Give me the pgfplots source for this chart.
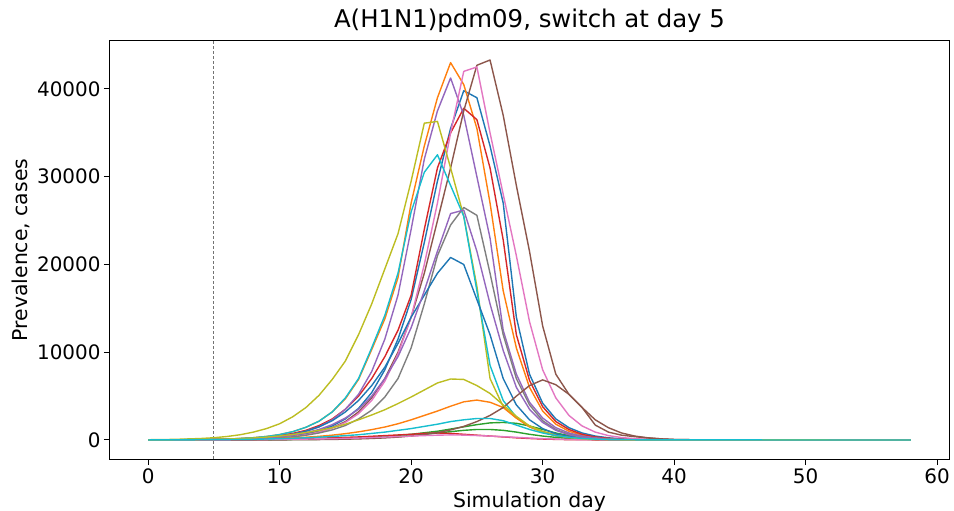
\documentclass[border=0pt]{standalone}
\usepackage{fontspec}
\setmainfont{DejaVu Sans}
\usepackage{pgfplots}
\pgfplotsset{compat=1.18}
\definecolor{c0}{HTML}{1F77B4}
\definecolor{c1}{HTML}{FF7F0E}
\definecolor{c2}{HTML}{2CA02C}
\definecolor{c3}{HTML}{D62728}
\definecolor{c4}{HTML}{9467BD}
\definecolor{c5}{HTML}{8C564B}
\definecolor{c6}{HTML}{E377C2}
\definecolor{c7}{HTML}{7F7F7F}
\definecolor{c8}{HTML}{BCBD22}
\definecolor{c9}{HTML}{17BECF}
\begin{document}
\begin{tikzpicture}
\begin{axis}[
 at={(0,0)}, anchor=south west,
 scale only axis, width=839bp, height=418bp,
 xmin=-2.9, xmax=60.9, ymin=-2165, ymax=45465,
 xtick={0,10,20,30,40,50,60},
 ytick={0,10000,20000,30000,40000},
 scaled y ticks=false,
 /pgf/number format/assume math mode=true,
 yticklabel style={/pgf/number format/fixed, /pgf/number format/1000 sep={}},
 tick label style={font=\fontsize{20}{24}\selectfont, black},
 tick align=outside, tick pos=left,
 major tick length=6bp,
 every tick/.style={black, line width=1bp},
 axis line style={black, line width=1bp},
 title={A(H1N1)pdm09, switch at day 5},
 title style={font=\fontsize{24.5}{29}\selectfont, at={(axis description cs:0.5,1)}, anchor=base, yshift=8bp},
 xlabel={Simulation day},
 xlabel style={font=\fontsize{20.5}{24}\selectfont, at={(axis description cs:0.5,0)}, anchor=north, yshift=-29bp},
 ylabel={Prevalence, cases},
 ylabel style={font=\fontsize{20.5}{24}\selectfont},
 every axis plot/.append style={line width=1.4bp, mark=none, line join=round},
]
\addplot[black!55, dash pattern=on 3bp off 2bp, line width=0.8bp, forget plot] coordinates {(5,-2165) (5,45465)};
% first cycle
\addplot[c0] coordinates {(0,5)(4,20)(6,50)(8,120)(9,190)(10,300)(11,460)(12,700)(13,1050)(14,1600)(15,2400)(16,3600)(17,5400)(18,8000)(19,11500)(20,16000)(21,22500)(22,29500)(23,35500)(24,39800)(25,39000)(26,33500)(27,27000)(28,14000)(29,7500)(30,4200)(31,2400)(32,1400)(33,800)(34,450)(35,250)(36,130)(37,70)(39,20)(58,0)};
\addplot[c1] coordinates {(0,10)(2,25)(4,50)(5,70)(6,110)(7,170)(8,260)(9,400)(10,620)(11,950)(12,1450)(13,2150)(14,3200)(15,4700)(16,6900)(17,10300)(18,13800)(19,18500)(20,27000)(21,33500)(22,39000)(23,43000)(24,40500)(25,35500)(26,27000)(27,17000)(28,10500)(29,6000)(30,3300)(31,1800)(32,1000)(33,550)(34,300)(35,150)(36,80)(37,40)(40,10)(58,0)};
\addplot[c2] coordinates {(0,2)(8,30)(10,60)(12,100)(14,150)(16,250)(18,400)(20,650)(22,1000)(23,1250)(24,1500)(25,1750)(26,1950)(27,2000)(28,1900)(29,1600)(30,1200)(31,800)(32,500)(33,300)(34,170)(35,90)(36,50)(39,10)(58,0)};
\addplot[c3] coordinates {(0,10)(4,40)(6,90)(8,220)(9,330)(10,500)(11,750)(12,1100)(13,1650)(14,2400)(15,3500)(16,5000)(17,7000)(18,9500)(19,12500)(20,16500)(21,24000)(22,31000)(23,35000)(24,37800)(25,36500)(26,31000)(27,22800)(28,12000)(29,6800)(30,3800)(31,2100)(32,1200)(33,650)(34,350)(35,190)(36,100)(37,50)(39,15)(58,0)};
\addplot[c4] coordinates {(0,5)(2,15)(4,30)(5,45)(6,70)(7,110)(8,170)(9,270)(10,420)(11,650)(12,1000)(13,1500)(14,2300)(15,3500)(16,5200)(17,7800)(18,11500)(19,16500)(20,24000)(21,32000)(22,37500)(23,41250)(24,37000)(25,30000)(26,23000)(27,12500)(28,7500)(29,4300)(30,2500)(31,1400)(32,800)(33,450)(34,250)(35,130)(36,70)(38,20)(58,0)};
\addplot[c5] coordinates {(0,5)(4,15)(6,40)(8,110)(9,170)(10,260)(11,400)(12,600)(13,900)(14,1400)(15,2100)(16,3200)(17,4800)(18,7000)(19,10000)(20,14000)(21,19000)(22,25000)(23,31000)(24,37500)(25,42700)(26,43300)(27,37000)(28,29000)(29,21500)(30,13000)(31,7500)(32,5200)(33,3700)(34,2300)(35,1400)(36,800)(37,450)(38,250)(39,130)(40,60)(42,15)(58,0)};
\addplot[c6] coordinates {(0,5)(4,20)(6,50)(8,110)(9,170)(10,260)(11,400)(12,600)(13,900)(14,1350)(15,2000)(16,3000)(17,4500)(18,6700)(19,9800)(20,14000)(21,20000)(22,27000)(23,35000)(24,42000)(25,42500)(26,35000)(27,28000)(28,21000)(29,13500)(30,8000)(31,4800)(32,2800)(33,1600)(34,900)(35,500)(36,280)(37,150)(38,80)(39,40)(42,5)(58,0)};
\addplot[c7] coordinates {(0,5)(4,20)(6,45)(8,100)(9,160)(10,240)(11,360)(12,540)(13,800)(14,1150)(15,1650)(16,2400)(17,3400)(18,4900)(19,7000)(20,10500)(21,15500)(22,21000)(23,24500)(24,26500)(25,25600)(26,19000)(27,12000)(28,7000)(29,4000)(30,2200)(31,1200)(32,650)(33,350)(34,180)(35,90)(37,25)(58,0)};
\addplot[c8] coordinates {(0,30)(2,70)(4,170)(5,260)(6,400)(7,600)(8,900)(9,1300)(10,1850)(11,2650)(12,3700)(13,5100)(14,6900)(15,9000)(16,12000)(17,15500)(18,19500)(19,23500)(20,29500)(21,36100)(22,36300)(23,31000)(24,25500)(25,17500)(26,7000)(27,3800)(28,2500)(29,1600)(30,1000)(31,600)(32,350)(33,200)(34,110)(35,60)(36,30)(40,5)(58,0)};
\addplot[c9] coordinates {(0,10)(2,25)(4,50)(5,70)(6,110)(7,170)(8,260)(9,400)(10,620)(11,950)(12,1450)(13,2150)(14,3200)(15,4800)(16,7000)(17,10500)(18,14200)(19,19000)(20,26000)(21,30500)(22,32500)(23,29000)(24,25500)(25,17000)(26,8500)(27,4500)(28,2600)(29,1500)(30,900)(31,500)(32,280)(33,150)(34,80)(35,40)(40,5)(58,0)};
% second cycle
\addplot[c0] coordinates {(0,5)(4,20)(5,45)(6,70)(7,110)(8,170)(9,270)(10,420)(11,650)(12,1000)(13,1500)(14,2200)(15,3200)(16,4500)(17,6200)(18,8300)(19,11000)(20,14000)(21,16500)(22,19000)(23,20800)(24,20000)(25,16000)(26,12000)(27,7000)(28,4000)(29,2300)(30,1300)(31,700)(32,400)(33,220)(34,120)(35,60)(37,15)(58,0)};
\addplot[c1] coordinates {(0,5)(4,20)(6,50)(8,100)(10,180)(11,240)(12,320)(13,420)(14,550)(15,720)(16,930)(17,1180)(18,1480)(19,1850)(20,2300)(21,2800)(22,3300)(23,3850)(24,4350)(25,4550)(26,4300)(27,3700)(28,2500)(29,1500)(30,900)(31,500)(32,280)(33,150)(34,80)(36,20)(58,0)};
\addplot[c2] coordinates {(0,2)(8,20)(10,40)(12,65)(14,100)(16,180)(18,300)(20,500)(21,650)(22,800)(23,950)(24,1100)(25,1200)(26,1200)(27,1100)(28,900)(29,650)(30,450)(31,300)(32,180)(33,100)(34,50)(37,10)(58,0)};
\addplot[c3] coordinates {(0,2)(6,30)(8,50)(10,100)(12,160)(14,250)(16,350)(18,500)(20,650)(21,750)(22,800)(23,750)(24,650)(25,550)(26,450)(27,350)(28,250)(29,170)(30,110)(31,70)(32,40)(35,10)(58,0)};
\addplot[c4] coordinates {(0,5)(4,25)(6,70)(8,160)(9,250)(10,380)(11,560)(12,820)(13,1200)(14,1750)(15,2500)(16,3500)(17,5000)(18,7000)(19,9500)(20,12800)(21,17000)(22,21500)(23,25800)(24,26200)(25,21500)(26,15500)(27,10200)(28,6000)(29,3500)(30,2000)(31,1100)(32,600)(33,330)(34,180)(35,90)(37,25)(58,0)};
\addplot[c5] coordinates {(0,0)(6,5)(10,18)(12,35)(14,65)(16,125)(17,175)(18,240)(19,330)(20,450)(21,620)(22,850)(23,1150)(24,1550)(25,2100)(26,2800)(27,3700)(28,5000)(29,6200)(30,6850)(31,6300)(32,5200)(33,3700)(34,1700)(35,900)(36,550)(37,380)(38,230)(39,130)(40,60)(42,15)(58,0)};
\addplot[c6] coordinates {(0,2)(6,20)(10,60)(14,150)(16,220)(18,330)(20,450)(22,550)(23,580)(24,560)(26,450)(28,300)(30,150)(32,60)(34,25)(37,5)(58,0)};
\addplot[c8] coordinates {(0,10)(3,30)(5,80)(6,110)(7,160)(8,230)(9,330)(10,460)(11,630)(12,850)(13,1100)(14,1400)(15,1800)(16,2300)(17,2850)(18,3450)(19,4150)(20,4900)(21,5700)(22,6500)(23,6950)(24,6900)(25,6200)(26,5300)(27,4000)(28,2700)(29,1600)(30,900)(31,500)(32,270)(33,140)(34,70)(36,20)(58,0)};
\addplot[c9] coordinates {(0,5)(5,30)(8,80)(10,150)(12,250)(14,400)(16,600)(18,900)(20,1300)(21,1550)(22,1800)(23,2100)(24,2300)(25,2450)(26,2450)(27,2200)(28,1700)(29,1200)(30,800)(31,500)(32,300)(33,180)(34,100)(35,50)(38,10)(58,0)};
\end{axis}
\pgfresetboundingbox
\path[use as bounding box] (-110bp,-52bp) rectangle (844bp,459bp);
\end{tikzpicture}
\end{document}
